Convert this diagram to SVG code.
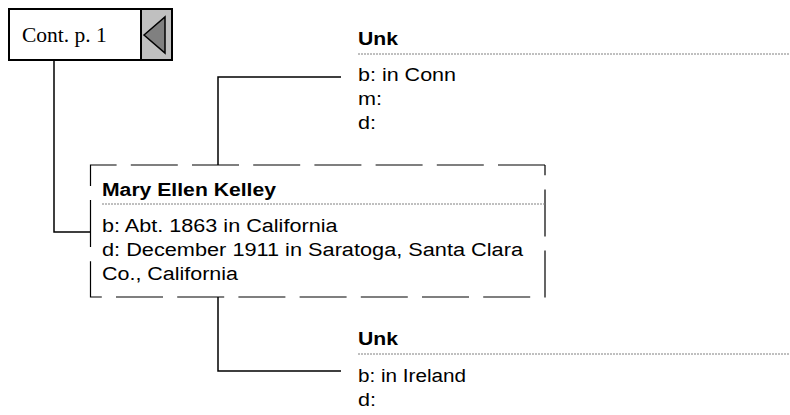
<svg xmlns="http://www.w3.org/2000/svg" width="790" height="415" viewBox="0 0 790 415">
<style>
.t{font-family:"Liberation Sans",Arial,sans-serif;font-size:18px;fill:#000}
.b{font-weight:bold}
.sep{stroke:#808080;stroke-width:1;stroke-dasharray:2 1;fill:none}
.conn{stroke:#000;stroke-width:1.5;fill:none}
</style>
<rect width="790" height="415" fill="#fff"/>
<g id="cont">
<rect x="9" y="9" width="163" height="51" fill="#fff" stroke="#000" stroke-width="2"/>
<rect x="141" y="9" width="31" height="51" fill="#c0c0c0" stroke="#000" stroke-width="2"/>
<polygon points="144,35 165,17 165,53" fill="#808080" stroke="#000" stroke-width="1.5"/>
<text x="22" y="42" font-family="'Liberation Serif','Times New Roman',serif" font-size="21.5">Cont. p. 1</text>
</g>
<g id="connectors">
<polyline class="conn" points="54,60 54,232 91,232"/>
<polyline class="conn" points="218,165 218,77 341,77"/>
<polyline class="conn" points="218,297 218,371 341,371"/>
</g>
<g id="main">
<path d="M545,165 H90.5 V297 H545 V165" fill="#fff" stroke="#000" stroke-width="1.2" stroke-dasharray="47 14.2"/>
<text class="t b" x="102" y="196" textLength="174" lengthAdjust="spacingAndGlyphs">Mary Ellen Kelley</text>
<line class="sep" x1="102" y1="204" x2="545" y2="204"/>
<text class="t" x="102" y="232" textLength="235.5" lengthAdjust="spacingAndGlyphs">b: Abt. 1863 in California</text>
<text class="t" x="102" y="256" textLength="421" lengthAdjust="spacingAndGlyphs">d: December 1911 in Saratoga, Santa Clara</text>
<text class="t" x="102" y="280" textLength="136" lengthAdjust="spacingAndGlyphs">Co., California</text>
</g>
<g id="father">
<text class="t b" x="358" y="45" textLength="40" lengthAdjust="spacingAndGlyphs">Unk</text>
<line class="sep" x1="358" y1="54" x2="790" y2="54"/>
<text class="t" x="358" y="81" textLength="98" lengthAdjust="spacingAndGlyphs">b: in Conn</text>
<text class="t" x="358" y="105" textLength="24" lengthAdjust="spacingAndGlyphs">m:</text>
<text class="t" x="358" y="129" textLength="18" lengthAdjust="spacingAndGlyphs">d:</text>
</g>
<g id="mother">
<text class="t b" x="358" y="345" textLength="40" lengthAdjust="spacingAndGlyphs">Unk</text>
<line class="sep" x1="358" y1="354" x2="790" y2="354"/>
<text class="t" x="358" y="382" textLength="108" lengthAdjust="spacingAndGlyphs">b: in Ireland</text>
<text class="t" x="358" y="406" textLength="18" lengthAdjust="spacingAndGlyphs">d:</text>
</g>
</svg>
